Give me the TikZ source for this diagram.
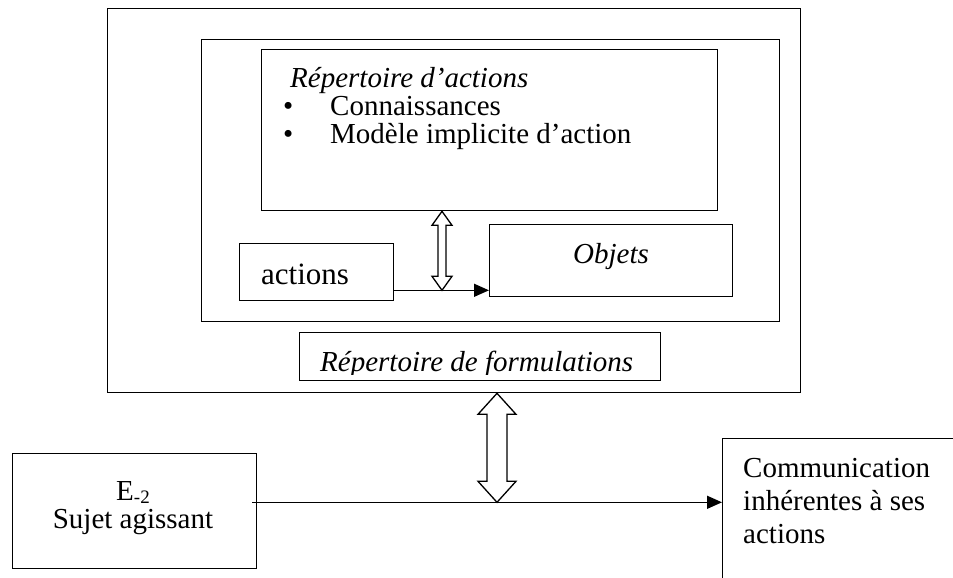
\documentclass[tikz,border=0pt]{standalone}
\usepackage{fontspec}
\setmainfont{Liberation Serif}
\usetikzlibrary{arrows.meta, calc, positioning}

\tikzset{
  cadre/.style={draw, line width=1.3pt, inner sep=0pt, anchor=north west},
  texte/.style={inner sep=0pt, anchor=base west},
  fleche/.style={line width=1.3pt, -{Triangle[length=15pt,width=13pt]}},
  creux/.style={draw, fill=white, line width=1.3pt, line join=miter},
}

% vertical hollow double arrow: top, bottom, half shaft, half head, head length
\newcommand{\doubleflecheV}[5]{%
  \path[creux] let \p1=#1, \p2=#2 in
    (\x1,\y1) -- (\x1+#4,\y1-#5) -- (\x1+#3,\y1-#5) -- (\x1+#3,\y2+#5)
    -- (\x1+#4,\y2+#5) -- (\x1,\y2) -- (\x1-#4,\y2+#5) -- (\x1-#3,\y2+#5)
    -- (\x1-#3,\y1-#5) -- (\x1-#4,\y1-#5) -- cycle;
}

\begin{document}
\begin{tikzpicture}[x=1pt, y=-1pt, font=\fontsize{29}{33}\selectfont]
    \clip (0,0) rectangle (953,578);

    % boxes
    \node[cadre, minimum width=693pt, minimum height=384pt] (externe) at (107,8) {};
    \node[cadre, minimum width=578pt, minimum height=282pt] (milieu) at (201,39) {};
    \node[cadre, minimum width=456pt, minimum height=161pt] (repact) at (261,49) {};
    \node[cadre, minimum width=154pt, minimum height=57pt] (actions) at (239,243) {};
    \node[cadre, minimum width=243pt, minimum height=72pt] (objets) at (489,224) {};
    \node[cadre, minimum width=361pt, minimum height=48pt] (repform) at (299,332) {};
    \node[cadre, minimum width=244pt, minimum height=115pt] (sujet) at (12,453) {};
    \node[cadre, minimum width=300pt, minimum height=200pt] (comm) at (722,438) {};

    % texts
    \node[texte] (titreact) at (290,88) {\itshape Répertoire d’actions};
    \node[texte] (puce1) at (283,115) {\textbullet};
    \node[texte] (connais) at (330,115) {Connaissances};
    \node[texte] (puce2) at (283,143) {\textbullet};
    \node[texte] (modele) at (330,143) {Modèle implicite d’action};
    \node[texte] (txtactions) at (261,284) {\fontsize{31}{33}\selectfont actions};
    \node[texte] (txtobjets) at (573,263) {\itshape Objets};
    \begin{scope}
        \clip (repform.north west) rectangle ($(repform.south east)+(0,-7)$);
        \node[texte] (txtform) at (320,371) {\itshape Répertoire de formulations};
    \end{scope}
    \node[inner sep=0pt, anchor=base] (e2) at (133,500)
        {E\raisebox{-3pt}{\fontsize{19}{19}\selectfont -2}};
    \node[inner sep=0pt, anchor=base] (agissant) at (133,528) {Sujet agissant};
    \node[texte] (comm1) at (743,477) {Communication};
    \node[texte] (comm2) at (743,510) {inhérentes à ses};
    \node[texte] (comm3) at (743,543) {actions};

    % connectors
    \coordinate (depart) at ($(actions.south east)+(0,-11)$);
    \draw[fleche] (depart) -- (depart -| objets.west);
    \coordinate (hautA) at ($(repact.south west)+(181,0)$);
    \coordinate (basA) at (hautA |- depart);
    \doubleflecheV{(hautA)}{(basA)}{4pt}{10pt}{14pt}

    \coordinate (sortie) at ($(sujet.south east)+(-5,-67)$);
    \draw[fleche] (sortie) -- (sortie -| comm.west);
    \coordinate (hautB) at ($(externe.south west)+(390,0)$);
    \coordinate (basB) at (hautB |- sortie);
    \doubleflecheV{(hautB)}{(basB)}{10pt}{19pt}{21pt}
\end{tikzpicture}
\end{document}
